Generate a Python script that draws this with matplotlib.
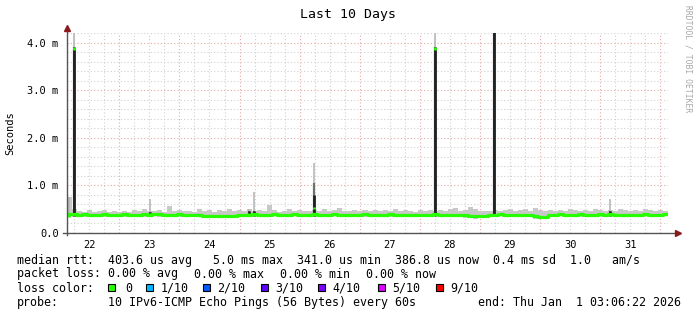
import numpy as np
import matplotlib.pyplot as plt
from matplotlib.patches import Rectangle

# time axis in days since Dec 22 00:00, graph covers 10 days ending Jan 1 03:06
t_start = 3.1 / 24
t_end = t_start + 10
step = 2 / 24  # one sample every 2 hours

# median rtt (ms), 2h samples
median = [0.39, 0.39, 0.385, 0.39, 0.385, 0.38, 0.385, 0.39, 0.385, 0.38, 0.385, 0.39,
          0.385, 0.38, 0.385, 0.39, 0.385, 0.39, 0.39, 0.385, 0.38, 0.385, 0.39, 0.385,
          0.385, 0.38, 0.375, 0.365, 0.36, 0.355, 0.36, 0.355, 0.36, 0.365, 0.375, 0.38,
          0.385, 0.39, 0.385, 0.38, 0.385, 0.39, 0.385, 0.38, 0.385, 0.39, 0.385, 0.38,
          0.385, 0.39, 0.385, 0.38, 0.385, 0.39, 0.385, 0.38, 0.385, 0.38, 0.385, 0.39,
          0.385, 0.38, 0.385, 0.385, 0.39, 0.385, 0.38, 0.385, 0.385, 0.38, 0.385, 0.385,
          0.385, 0.39, 0.385, 0.38, 0.385, 0.385, 0.38, 0.37, 0.355, 0.35, 0.355, 0.365,
          0.38, 0.385, 0.39, 0.385, 0.38, 0.385, 0.385, 0.38, 0.375, 0.35, 0.34, 0.345,
          0.38, 0.385, 0.39, 0.385, 0.38, 0.385, 0.39, 0.385, 0.38, 0.385, 0.39, 0.385,
          0.39, 0.385, 0.38, 0.385, 0.385, 0.38, 0.385, 0.39, 0.385, 0.38, 0.385, 0.39]

# smoke upper / lower edge (ms)
smoke_hi = [0.75, 0.50, 0.47, 0.45, 0.48, 0.44, 0.46, 0.49, 0.45, 0.47, 0.44, 0.46,
            0.45, 0.48, 0.46, 0.50, 0.47, 0.46, 0.48, 0.45, 0.56, 0.47, 0.49, 0.46,
            0.47, 0.45, 0.50, 0.46, 0.48, 0.45, 0.49, 0.46, 0.51, 0.47, 0.48, 0.46,
            0.50, 0.47, 0.49, 0.46, 0.58, 0.48, 0.45, 0.47, 0.50, 0.46, 0.48, 0.47,
            0.46, 0.49, 0.47, 0.50, 0.46, 0.48, 0.52, 0.47, 0.46, 0.49, 0.47, 0.48,
            0.47, 0.48, 0.46, 0.49, 0.47, 0.50, 0.46, 0.48, 0.47, 0.45, 0.48, 0.46,
            0.48, 0.46, 0.49, 0.47, 0.50, 0.52, 0.47, 0.48, 0.54, 0.50, 0.47, 0.46,
            0.47, 0.49, 0.46, 0.48, 0.50, 0.47, 0.49, 0.51, 0.47, 0.52, 0.49, 0.46,
            0.48, 0.46, 0.49, 0.47, 0.50, 0.48, 0.46, 0.49, 0.47, 0.50, 0.48, 0.47,
            0.49, 0.47, 0.50, 0.48, 0.46, 0.49, 0.47, 0.50, 0.48, 0.46, 0.49, 0.47]
smoke_lo = [0.35, 0.345, 0.35, 0.34, 0.345, 0.34, 0.35, 0.345, 0.34, 0.35, 0.345, 0.34,
            0.345, 0.34, 0.35, 0.345, 0.34, 0.35, 0.345, 0.34, 0.345, 0.35, 0.34, 0.345,
            0.34, 0.335, 0.33, 0.32, 0.315, 0.31, 0.315, 0.31, 0.315, 0.32, 0.33, 0.34,
            0.345, 0.35, 0.34, 0.345, 0.34, 0.35, 0.345, 0.34, 0.345, 0.35, 0.34, 0.345,
            0.34, 0.345, 0.35, 0.34, 0.345, 0.35, 0.34, 0.345, 0.34, 0.35, 0.345, 0.34,
            0.345, 0.34, 0.35, 0.345, 0.34, 0.35, 0.345, 0.34, 0.345, 0.35, 0.34, 0.345,
            0.34, 0.35, 0.345, 0.34, 0.345, 0.34, 0.335, 0.32, 0.305, 0.30, 0.31, 0.32,
            0.34, 0.345, 0.35, 0.34, 0.345, 0.34, 0.35, 0.34, 0.33, 0.30, 0.29, 0.30,
            0.34, 0.345, 0.35, 0.34, 0.345, 0.35, 0.34, 0.345, 0.34, 0.35, 0.345, 0.34,
            0.35, 0.345, 0.34, 0.345, 0.35, 0.34, 0.345, 0.35, 0.34, 0.345, 0.34, 0.35]

# short outliers: time (days), median, black / mid gray / light gray smoke tops (ms)
spike_t = [0.16, 0.246, 1.512, 3.162, 3.246, 4.246, 6.246, 7.229, 9.162]
spike_med = [0.39, 3.9, 0.42, 0.42, 0.42, 0.55, 3.9, 5.0, 0.42]
spike_dark = [0.40, 3.9, 0.44, 0.46, 0.47, 0.80, 3.9, 5.0, 0.46]
spike_mid = [0.40, 3.9, 0.44, 0.46, 0.47, 1.05, 3.9, 5.0, 0.46]
spike_top = [0.75, 4.3, 0.72, 0.50, 0.86, 1.46, 4.25, 5.0, 0.71]

day_labels = ["22", "23", "24", "25", "26", "27", "28", "29", "30", "31"]
y_ticks = [0, 1, 2, 3, 4]
y_labels = ["0.0", "1.0 m", "2.0 m", "3.0 m", "4.0 m"]

loss_names = ["0", "1/10", "2/10", "3/10", "4/10", "5/10", "9/10"]
loss_colors = ["#26ff00", "#00b8ff", "#0059ff", "#5e00ff", "#7e00ff", "#dd00ff", "#ff0000"]

rtt_line = ("median rtt:  403.6 us avg   5.0 ms max  341.0 us min  "
            "386.8 us now  0.4 ms sd  1.0   am/s")
loss_items = ["0.00 % avg", "0.00 % max", "0.00 % min", "0.00 % now"]

W, H = 697, 315
mono = "DejaVu Sans Mono"
fig = plt.figure(figsize=(W / 100, H / 100), dpi=100)
ax = fig.add_axes([67 / W, 82 / H, 601 / W, 200 / H])
ax.set_xlim(t_start, t_end)
ax.set_ylim(0, 4.2)


def px(x, y):
    return x / W, 1 - y / H


# grid
for v in np.arange(0.25, 11, 0.25):
    if t_start < v < t_end:
        major = abs(v - round(v)) < 1e-9
        ax.axvline(v, color="#e8a8a8" if major else "#d0d0d0", lw=0.8,
                   ls=(0, (1, 2)), zorder=0)
for v in np.arange(0.2, 4.21, 0.2):
    major = abs(v - round(v)) < 1e-9
    ax.axhline(v, color="#e8a8a8" if major else "#d0d0d0", lw=0.8,
               ls=(0, (1, 2)), zorder=0)

# smoke
t = t_start + np.arange(len(median) + 1) * step
med = np.append(median, median[-1])
hi = np.append(smoke_hi, smoke_hi[-1])
lo = np.append(smoke_lo, smoke_lo[-1])
ax.fill_between(t, lo, hi, step="post", color="#c8c8c8", lw=0, zorder=1)
ax.fill_between(t, med - 0.035, med, step="post", color="#a2a2a2", lw=0, zorder=1)

# spikes
ax.vlines(spike_t, 0.36, spike_top, color="#b8b8b8", lw=1.2, zorder=2)
ax.vlines(spike_t, 0.36, spike_mid, color="#707070", lw=1.6, zorder=2)
ax.vlines(spike_t, 0.36, spike_dark, color="#202020", lw=2.0, zorder=2)

# median line
ax.step(t, med, where="post", color="#26ff00", lw=2.3, zorder=3)
ax.vlines(spike_t, np.array(spike_med) - 0.05, spike_med, color="#26ff00",
          lw=2.0, zorder=4)

# axes
for s in ax.spines.values():
    s.set_visible(False)
ax.plot([-0.006, 1.012], [0, 0], transform=ax.transAxes, color="#555555",
        lw=1, clip_on=False, zorder=5)
ax.plot([0, 0], [-0.012, 1.02], transform=ax.transAxes, color="#555555",
        lw=1, clip_on=False, zorder=5)
ax.plot([1.016], [0], marker=">", ms=5, color="#8b1a1a", transform=ax.transAxes,
        clip_on=False, zorder=6)
ax.plot([0], [1.025], marker="^", ms=5, color="#8b1a1a", transform=ax.transAxes,
        clip_on=False, zorder=6)

ax.set_xticks(np.arange(len(day_labels)) + 0.5)
ax.set_xticklabels(day_labels, family=mono, fontsize=7.5)
ax.set_yticks(y_ticks)
ax.set_yticklabels(y_labels, family=mono, fontsize=7.5)
ax.tick_params(axis="both", length=0)
ax.tick_params(axis="x", pad=5)
ax.tick_params(axis="y", pad=6)

# texts
fig.text(*px(348, 18), "Last 10 Days", family=mono, fontsize=9.5,
         ha="center", va="baseline")
fig.text(*px(10, 133), "Seconds", family=mono, fontsize=7.5, rotation=90,
         ha="center", va="center")
fig.text(*px(688, 5), "RRDTOOL / TOBI OETIKER", family=mono, fontsize=5.8,
         rotation=270, ha="center", va="top", color="#a8a8a8")


def legend_text(x, y, s):
    fig.text(*px(x, y), s, family=mono, fontsize=8.4, va="baseline")


legend_text(17, 264, rtt_line)
legend_text(17, 277.5, "packet loss:")
for x, s in zip([108, 194, 280, 366], loss_items):
    legend_text(x, 277.5, s)
legend_text(17, 291.7, "loss color:")
box_x = [108, 146, 203, 261, 318, 378, 436]
for bx, name, c in zip(box_x, loss_names, loss_colors):
    x0, y0 = px(bx, 291)
    fig.add_artist(Rectangle((x0, y0), 7 / W, 7 / H, transform=fig.transFigure,
                             facecolor=c, edgecolor="black", lw=0.8))
    legend_text(bx + (17 if name == "0" else 14.5), 291.7, name)
legend_text(17, 305.7, "probe:")
legend_text(108, 305.7, "10 IPv6-ICMP Echo Pings (56 Bytes) every 60s")
legend_text(478, 305.7, "end: Thu Jan  1 03:06:22 2026")

fig.savefig("out.png", dpi=100)
